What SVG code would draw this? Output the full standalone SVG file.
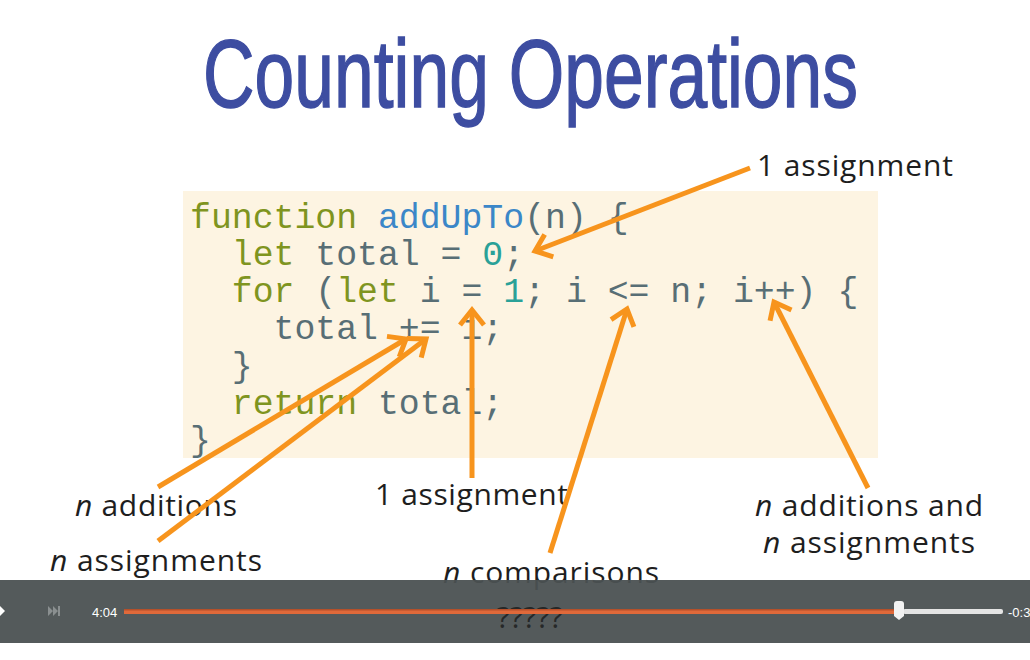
<svg xmlns="http://www.w3.org/2000/svg" width="1030" height="660" viewBox="0 0 1030 660">
<style>
.code{font-family:"Liberation Mono","DejaVu Sans Mono",monospace;font-size:34.8px;fill:#586e75;white-space:pre}
.kw{fill:#7f9420}.fn{fill:#3b87c8}.num{fill:#2aa198}
.lbl{font-family:"Open Sans","Liberation Sans",sans-serif;font-size:30px;fill:#1e1e1e}
.it{font-style:italic}
.arr{stroke:#f7941d;stroke-width:5;fill:none;marker-end:url(#ah)}
</style>
<defs>
<marker id="ah" markerUnits="userSpaceOnUse" markerWidth="40" markerHeight="40" viewBox="-20 -20 40 40" refX="0" refY="0" orient="auto">
<path d="M-15,-12 L0,0 L-15,12" stroke="#f7941d" stroke-width="5" fill="none" stroke-linejoin="miter"/>
</marker>
</defs>
<rect width="1030" height="660" fill="#ffffff"/>
<g id="title" transform="translate(203,107) scale(0.744,1)"><text x="0" y="0" font-family="Liberation Sans, Arial, sans-serif" font-size="96" fill="#3d4da1" stroke="#3d4da1" stroke-width="1.4">Counting Operations</text></g>
<g id="code">
<rect x="183" y="191" width="695" height="267" fill="#fdf4e2"/>
<text class="code" x="190" y="228"><tspan class="kw">function</tspan> <tspan class="fn">addUpTo</tspan>(n) {</text>
<text class="code" x="190" y="265">  <tspan class="kw">let</tspan> total = <tspan class="num">0</tspan>;</text>
<text class="code" x="190" y="302">  <tspan class="kw">for</tspan> (<tspan class="kw">let</tspan> i = <tspan class="num">1</tspan>; i &lt;= n; i++) {</text>
<text class="code" x="190" y="339">    total += i;</text>
<text class="code" x="190" y="377">  }</text>
<text class="code" x="190" y="414">  <tspan class="kw">return</tspan> total;</text>
<text class="code" x="190" y="451">}</text>
</g>
<g id="labels">
<text class="lbl" x="757" y="176" textLength="196">1 assignment</text>
<text class="lbl" x="75" y="516" textLength="162"><tspan class="it">n</tspan> additions</text>
<text class="lbl" x="50" y="571" textLength="212"><tspan class="it">n</tspan> assignments</text>
<text class="lbl" x="375" y="505" textLength="193">1 assignment</text>
<text class="lbl" x="443" y="583" textLength="216"><tspan class="it">n</tspan> comparisons</text>
<text class="lbl" x="755" y="516" textLength="228"><tspan class="it">n</tspan> additions and</text>
<text class="lbl" x="763" y="553" textLength="212"><tspan class="it">n</tspan> assignments</text>
</g>
<g id="connectors">
<line class="arr" x1="750" y1="168" x2="535" y2="251"/>
<line class="arr" x1="158" y1="487" x2="406" y2="339"/>
<line class="arr" x1="158" y1="541" x2="426" y2="339"/>
<line class="arr" x1="472" y1="478" x2="472" y2="310"/>
<line class="arr" x1="550" y1="553" x2="627" y2="309"/>
<line class="arr" x1="868" y1="488" x2="774" y2="302"/>
</g>
<g id="player">
<rect x="0" y="580" width="1030" height="63" fill="#4b5152" opacity="0.95"/>
<text x="497" y="628" font-family="Open Sans, Liberation Sans, sans-serif" font-size="30" fill="#262828" textLength="66">?????</text>
<path d="M0,606 L5,611 L0,616 Z" fill="#ffffff"/>
<path d="M48,606 L53,611 L48,616 Z M53,606 L58,611 L53,616 Z" fill="#8a8f90"/>
<rect x="58" y="606" width="2" height="10" fill="#8a8f90"/>
<text x="92" y="617" font-family="Liberation Sans, Arial, sans-serif" font-size="13" fill="#ffffff">4:04</text>
<rect x="124" y="609" width="776" height="5" fill="#e0693a"/>
<rect x="124" y="609" width="776" height="1.5" fill="#b5502a"/>
<rect x="903" y="609" width="100" height="5" rx="2" fill="#e4e4e4"/>
<path d="M894,604 Q894,601 897,601 L901,601 Q904,601 904,604 L904,616 L899,620 L894,616 Z" fill="#f2f2f2"/>
<text x="1008" y="617" font-family="Liberation Sans, Arial, sans-serif" font-size="13" fill="#ffffff">-0:3</text>
</g>
</svg>
